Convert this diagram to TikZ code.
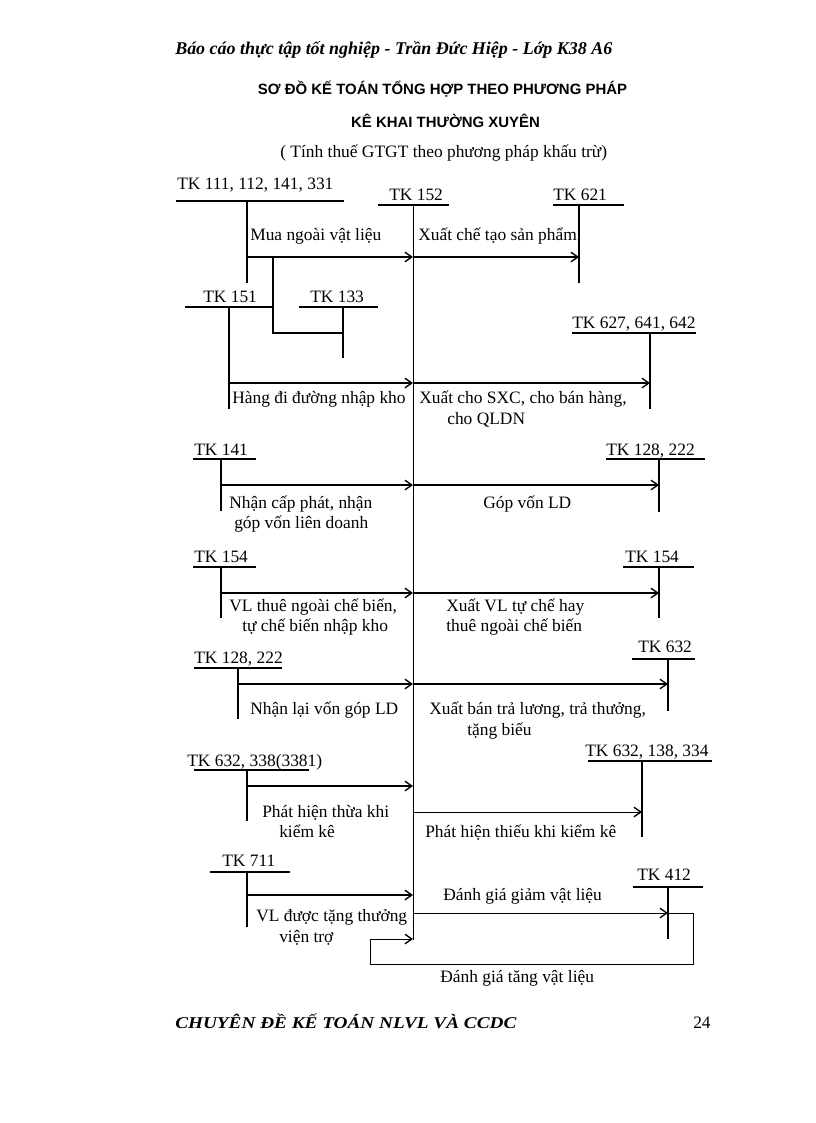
\documentclass[tikz,border=0pt]{standalone}
\usepackage{fontspec}
\setmainfont{Liberation Serif}
\newfontfamily\arialfont{Liberation Sans}
\usetikzlibrary{arrows.meta}
\begin{document}
\begin{tikzpicture}[x=0.7295pt,y=-0.7295pt,
  lbl/.style={anchor=base west,inner sep=0pt,font=\fontsize{12.7}{15}\selectfont},
  tline/.style={line width=1.2pt},
  mainline/.style={line width=0.7pt},
  arr/.style={line width=1.2pt,-{Straight Barb[length=5pt,width=7pt,line width=1pt]}},
  arrthin/.style={line width=0.7pt,-{Straight Barb[length=5pt,width=7pt,line width=1pt]}},
  loopline/.style={line width=0.7pt}]
\useasboundingbox (0,0) rectangle (816,1123);

% ---------- header texts ----------
\node[anchor=base west,inner sep=0pt,font=\fontsize{13.1}{15}\selectfont\bfseries\itshape] (hdr) at (175,54) {Báo cáo thực tập tốt nghiệp - Trần Đức Hiệp - Lớp K38 A6};
\node[anchor=base,inner sep=0pt,font=\arialfont\fontsize{10.9}{12}\selectfont\bfseries] (t1) at (442.5,94) {SƠ ĐỒ KẾ TOÁN TỔNG HỢP THEO PHƯƠNG PHÁP};
\node[anchor=base,inner sep=0pt,font=\arialfont\fontsize{10.9}{12}\selectfont\bfseries] (t2) at (445.5,127) {KÊ KHAI THƯỜNG XUYÊN};
\node[lbl] (sub) at (280,157) {( Tính thuế GTGT theo phương pháp khấu trừ)};

% ---------- main account TK 152 ----------
\node[lbl] (n152) at (389,200) {TK 152};
\coordinate (m0) at (413,205);
\coordinate (m1) at (413,940);
\draw[tline] (378,205) -- (449,205);
\draw[mainline] (m0) -- (m1);

% ---------- TK 111... ----------
\node[lbl] (n111) at (177,189) {TK 111, 112, 141, 331};
\draw[tline] (176,201) -- (344,201);
\coordinate (a111) at (247,201);
\coordinate (b111) at (247,283);
\draw[tline] (a111) -- (b111);
\coordinate (s1) at (247,257);
\coordinate (e1) at (413,257);
\draw[arr] (s1) -- (e1);
\node[lbl] (l1) at (250,240) {Mua ngoài vật liệu};

% ---------- TK 621 ----------
\node[lbl] (n621) at (553,200) {TK 621};
\draw[tline] (553,205) -- (624,205);
\coordinate (a621) at (579,205);
\coordinate (b621) at (579,283);
\draw[tline] (a621) -- (b621);
\coordinate (e2) at (579,257);
\draw[arr] (e1) -- (e2);
\node[lbl] (l2) at (418,240) {Xuất chế tạo sản phẩm};

% ---------- TK 133 branch ----------
\coordinate (br0) at (273,257);
\coordinate (br1) at (273,333);
\coordinate (br2) at (343,333);
\draw[tline] (br0) -- (br1) -- (br2);
\node[lbl] (n133) at (310,302) {TK 133};
\draw[tline] (299,307) -- (378,307);
\coordinate (a133) at (343,307);
\coordinate (b133) at (343,358);
\draw[tline] (a133) -- (b133);

% ---------- TK 151 ----------
\node[lbl] (n151) at (203,302) {TK 151};
\draw[tline] (185,307) -- (273,307);
\coordinate (a151) at (229,307);
\coordinate (b151) at (229,409);
\draw[tline] (a151) -- (b151);
\coordinate (s3) at (229,383);
\coordinate (e3) at (413,383);
\draw[arr] (s3) -- (e3);
\node[lbl] (l3) at (232,403) {Hàng đi đường nhập kho};

% ---------- TK 627 ----------
\node[lbl] (n627) at (572,328) {TK 627, 641, 642};
\draw[tline] (572,333) -- (696,333);
\coordinate (a627) at (650,333);
\coordinate (b627) at (650,409);
\draw[tline] (a627) -- (b627);
\coordinate (e4) at (650,383);
\draw[arr] (e3) -- (e4);
\node[lbl] (l4a) at (419,403) {Xuất cho SXC, cho bán hàng,};
\node[lbl] (l4b) at (447,424) {cho QLDN};

% ---------- TK 141 / TK 128,222 ----------
\node[lbl] (n141) at (194,455) {TK 141};
\draw[tline] (193,459) -- (256,459);
\coordinate (a141) at (221,459);
\coordinate (b141) at (221,511);
\draw[tline] (a141) -- (b141);
\coordinate (s5) at (221,485);
\coordinate (e5) at (413,485);
\draw[arr] (s5) -- (e5);
\node[lbl] (l5a) at (229,508) {Nhận cấp phát, nhận};
\node[lbl] (l5b) at (234,528) {góp vốn liên doanh};

\node[lbl] (n128r) at (606,455) {TK 128, 222};
\draw[tline] (606,459) -- (705,459);
\coordinate (a128r) at (659,459);
\coordinate (b128r) at (659,512);
\draw[tline] (a128r) -- (b128r);
\coordinate (f5) at (659,485);
\draw[arr] (e5) -- (f5);
\node[lbl] (l6) at (483,508) {Góp vốn LD};

% ---------- TK 154 / TK 154 ----------
\node[lbl] (n154l) at (194,562) {TK 154};
\draw[tline] (193,567) -- (256,567);
\coordinate (a154l) at (221,567);
\coordinate (b154l) at (221,618);
\draw[tline] (a154l) -- (b154l);
\coordinate (s6) at (221,593);
\coordinate (e6) at (413,593);
\draw[arr] (s6) -- (e6);
\node[lbl] (l7a) at (229,611) {VL thuê ngoài chế biến,};
\node[lbl] (l7b) at (242,631) {tự chế biến nhập kho};

\node[lbl] (n154r) at (625,562) {TK 154};
\draw[tline] (623,567) -- (694,567);
\coordinate (a154r) at (659,567);
\coordinate (b154r) at (659,618);
\draw[tline] (a154r) -- (b154r);
\coordinate (f6) at (659,593);
\draw[arr] (e6) -- (f6);
\node[lbl] (l8a) at (446,611) {Xuất VL tự chế hay};
\node[lbl] (l8b) at (446,631) {thuê ngoài chế biến};

% ---------- TK 128,222 left / TK 632 ----------
\node[lbl] (n128l) at (194,663) {TK 128, 222};
\draw[tline] (194,668) -- (282,668);
\coordinate (a128l) at (238,668);
\coordinate (b128l) at (238,719);
\draw[tline] (a128l) -- (b128l);
\coordinate (s7) at (238,684);
\coordinate (e7) at (413,684);
\draw[arr] (s7) -- (e7);
\node[lbl] (l9) at (250,714) {Nhận lại vốn góp LD};

\node[lbl] (n632) at (638,652) {TK 632};
\draw[tline] (632,659) -- (695,659);
\coordinate (a632) at (668,659);
\coordinate (b632) at (668,711);
\draw[tline] (a632) -- (b632);
\coordinate (f7) at (668,684);
\draw[arr] (e7) -- (f7);
\node[lbl] (l10a) at (429,714) {Xuất bán trả lương, trả thưởng,};
\node[lbl] (l10b) at (467,735) {tặng biếu};

% ---------- TK 632,338 / TK 632,138,334 ----------
\node[lbl] (n338) at (187,766) {TK 632, 338(3381)};
\draw[tline] (194,770) -- (309,770);
\coordinate (a338) at (247,770);
\coordinate (b338) at (247,821);
\draw[tline] (a338) -- (b338);
\coordinate (s8) at (247,786);
\coordinate (e8) at (413,786);
\draw[arr] (s8) -- (e8);
\node[lbl] (l11a) at (262,817) {Phát hiện thừa khi};
\node[lbl] (l11b) at (279,837) {kiểm kê};

\node[lbl] (n138) at (585,756) {TK 632, 138, 334};
\draw[tline] (588,761) -- (712,761);
\coordinate (a138) at (642,761);
\coordinate (b138) at (642,837);
\draw[tline] (a138) -- (b138);
\coordinate (s9) at (413,812);
\coordinate (f9) at (642,812);
\draw[arrthin] (s9) -- (f9);
\node[lbl] (l12) at (425,837) {Phát hiện thiếu khi kiểm kê};

% ---------- TK 711 / TK 412 ----------
\node[lbl] (n711) at (222,866) {TK 711};
\draw[tline] (210,872) -- (290,872);
\coordinate (a711) at (247,872);
\coordinate (b711) at (247,927);
\draw[tline] (a711) -- (b711);
\coordinate (s10) at (247,895);
\coordinate (e10) at (413,895);
\draw[arr] (s10) -- (e10);
\node[lbl] (l13a) at (256,921) {VL được tặng thưởng};
\node[lbl] (l13b) at (279,942) {viện trợ};

\node[lbl] (n412) at (637,880) {TK 412};
\draw[tline] (633,887) -- (703,887);
\coordinate (a412) at (668,887);
\coordinate (b412) at (668,939);
\draw[tline] (a412) -- (b412);
\coordinate (s11) at (413,913);
\coordinate (f11) at (668,913);
\draw[arrthin] (s11) -- (f11);
\node[lbl] (l14) at (443,900) {Đánh giá giảm vật liệu};

\coordinate (lp1) at (693,913);
\coordinate (lp2) at (693,964);
\coordinate (lp3) at (370,964);
\coordinate (lp4) at (370,939);
\coordinate (e12) at (413,939);
\draw[loopline] (f11) -- (lp1) -- (lp2) -- (lp3) -- (lp4);
\draw[arrthin] (lp4) -- (e12);
\node[lbl] (l15) at (440,982) {Đánh giá tăng vật liệu};

% ---------- footer ----------
\node[anchor=base west,inner sep=0pt,font=\fontsize{12}{14}\selectfont\bfseries\itshape] (ftr) at (175,1028) {\scalebox{1.17}[1]{CHUYÊN ĐỀ KẾ TOÁN NLVL VÀ CCDC}};
\node[lbl] (pg) at (693,1028) {24};
\end{tikzpicture}
\end{document}
